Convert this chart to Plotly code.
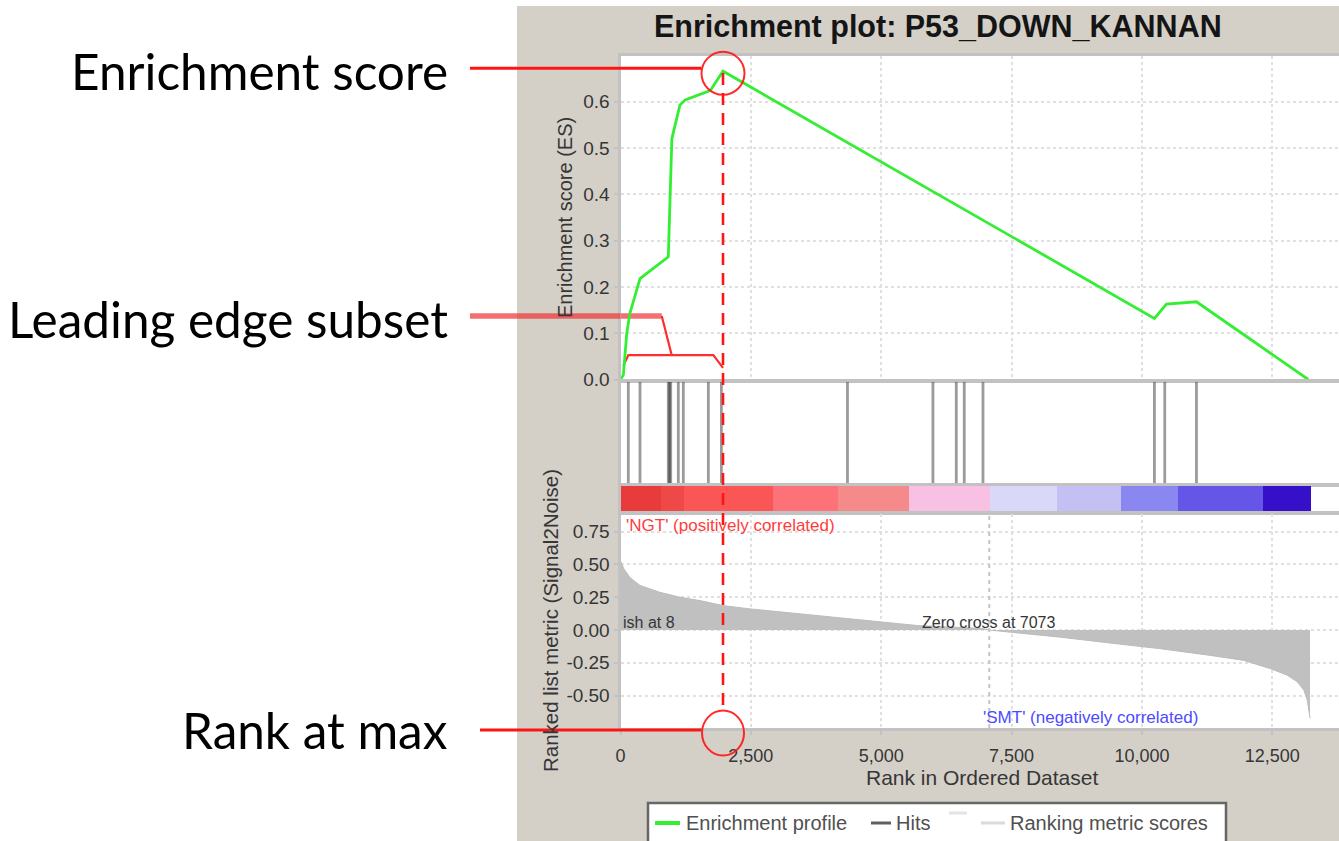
import plotly.graph_objects as go

W, H = 1339, 841

# ---------------- data ----------------
# running enrichment score (rank, ES)
es_rank = [0, 55, 120, 180, 374, 917, 985, 1140, 1240, 1720, 1966, 10240, 10470, 11046, 13190]
es_score = [0.0, 0.01, 0.10, 0.143, 0.218, 0.265, 0.52, 0.593, 0.604, 0.624, 0.666, 0.132, 0.163, 0.168, 0.0]

# positions of gene-set members in the ranked list
hit_ranks = [150, 374, 917, 940, 963, 1109, 1205, 1685, 1935,
             4353, 5992, 6440, 6593, 6952, 10240, 10438, 11046]

# leading-edge bracket
lead_rank = [54, 150, 1781, 1966]
lead_score = [0.03, 0.0525, 0.0525, 0.025]
lead_arm_rank = [0, 791]
lead_arm_score = [0.137, 0.137]
lead_drop_rank = [791, 983]
lead_drop_score = [0.137, 0.0525]

# ranked list metric (Signal2Noise)
metric_rank = [0, 60, 182, 374, 758, 1142, 1526, 1967, 2486, 3119, 3772, 4405, 5038,
               5691, 6958, 7073, 7476, 8436, 9395, 10355, 11315, 11954, 12466, 12787,
               12979, 13106, 13171, 13225]
metric_val = [0.53, 0.47, 0.40, 0.34, 0.287, 0.25, 0.224, 0.186, 0.161, 0.135, 0.110,
              0.085, 0.059, 0.034, 0.011, 0.0, -0.017, -0.055, -0.10, -0.143, -0.194,
              -0.232, -0.295, -0.345, -0.396, -0.46, -0.535, -0.674]

# heat-map bar under the hits
band_edges = [0, 758, 1200, 2908, 4156, 5518, 7073, 8359, 9587, 10681, 12313, 13230]
band_colors = ['#e83c3c', '#ee4848', '#fb5656', '#fd7278', '#f58a8a', '#f8c0e2',
               '#d9d8f8', '#c4c0f4', '#8a88f0', '#6656e8', '#3510c8']

x_ticks = [0, 2500, 5000, 7500, 10000, 12500]
x_tick_text = ['0', '2,500', '5,000', '7,500', '10,000', '12,500']
es_ticks = [0.0, 0.1, 0.2, 0.3, 0.4, 0.5, 0.6]
es_tick_text = ['0.0', '0.1', '0.2', '0.3', '0.4', '0.5', '0.6']
metric_ticks = [-0.5, -0.25, 0.0, 0.25, 0.5, 0.75]
metric_tick_text = ['-0.50', '-0.25', '0.00', '0.25', '0.50', '0.75']

RANK_AT_MAX = 1966
ZERO_CROSS = 7073
X_RANGE = [0, 13780]

# ---------------- helpers ----------------
def px(x):
    return x / W


def py(y):
    return 1 - y / H


FONT = 'Liberation Sans, Arial, sans-serif'
ANNOT_FONT = 'Lato, Liberation Sans, sans-serif'
PANEL = '#d4d0c8'
FRAME = '#c2c2c2'
GRID = '#e0e0e0'
TXT = '#363636'
RED = '#ff1414'

fig = go.Figure()

# ranked list metric
fig.add_trace(go.Scatter(
    x=metric_rank, y=metric_val, mode='lines', fill='tozeroy',
    fillcolor='#c0c0c0', line=dict(color='#bcbcbc', width=1),
    xaxis='x4', yaxis='y4', hoverinfo='skip'))

# hits
hx, hy = [], []
for r in hit_ranks:
    hx += [r, r, None]
    hy += [0, 1, None]
fig.add_trace(go.Scatter(
    x=hx, y=hy, mode='lines', line=dict(color='rgba(45,45,45,0.48)', width=2.8),
    xaxis='x2', yaxis='y2', hoverinfo='skip'))

# colour band
centers = [(a + b) / 2 for a, b in zip(band_edges[:-1], band_edges[1:])]
widths = [b - a for a, b in zip(band_edges[:-1], band_edges[1:])]
fig.add_trace(go.Bar(
    x=centers, y=[1] * len(centers), width=widths, base=0,
    marker=dict(color=band_colors, line=dict(width=0)),
    xaxis='x3', yaxis='y3', hoverinfo='skip'))

# leading edge bracket
fig.add_trace(go.Scatter(
    x=lead_arm_rank, y=lead_arm_score, mode='lines',
    line=dict(color='rgba(240,50,50,0.7)', width=5.5),
    xaxis='x', yaxis='y', hoverinfo='skip'))
fig.add_trace(go.Scatter(
    x=lead_drop_rank + [None] + lead_rank,
    y=lead_drop_score + [None] + lead_score,
    mode='lines', line=dict(color='#ff2d2d', width=2.2),
    xaxis='x', yaxis='y', hoverinfo='skip'))

# enrichment profile
fig.add_trace(go.Scatter(
    x=es_rank, y=es_score, mode='lines', line=dict(color='#33ee33', width=2.8),
    xaxis='x', yaxis='y', hoverinfo='skip'))

x_dom = [px(620.5), 1.0]
base_x = dict(range=X_RANGE, domain=x_dom, showline=True, mirror=True,
              linecolor=FRAME, linewidth=3, zeroline=False, fixedrange=True,
              tickvals=x_ticks, automargin=False)
base_y = dict(showline=True, linecolor=FRAME, linewidth=3, zeroline=False,
              fixedrange=True, automargin=False)

layout = dict(
    template='none',
    width=W, height=H, autosize=False,
    margin=dict(l=0, r=0, t=0, b=0, pad=0),
    paper_bgcolor='white', plot_bgcolor='white',
    showlegend=False, bargap=0,
    font=dict(family=FONT, color=TXT),
    xaxis=dict(base_x, anchor='y', showticklabels=False, ticks='',
               showgrid=True, gridcolor=GRID, gridwidth=2, griddash='dot'),
    xaxis2=dict(base_x, anchor='y2', showticklabels=False, ticks='', showgrid=False),
    xaxis3=dict(base_x, anchor='y3', showticklabels=False, ticks='', showgrid=False),
    xaxis4=dict(base_x, anchor='y4', ticktext=x_tick_text, ticks='outside',
                ticklen=4, tickwidth=2, tickcolor=FRAME, ticklabelstandoff=5,
                tickfont=dict(size=18, color=TXT),
                showgrid=True, gridcolor=GRID, gridwidth=2, griddash='dot'),
    yaxis=dict(base_y, domain=[py(379.5), py(55.5)], range=[0, 0.70], anchor='x',
               tickvals=es_ticks, ticktext=es_tick_text, ticks='outside', ticklen=4,
               tickwidth=2, tickcolor=FRAME, tickfont=dict(size=19, color=TXT),
               showgrid=True, gridcolor=GRID, gridwidth=2, griddash='dot'),
    yaxis2=dict(base_y, domain=[py(484), py(381.5)], range=[0, 1], anchor='x2',
                showticklabels=False, ticks='', showgrid=False),
    yaxis3=dict(base_y, domain=[py(512), py(486)], range=[0, 1], anchor='x3',
                showticklabels=False, ticks='', showgrid=False),
    yaxis4=dict(base_y, domain=[py(728), py(514)], range=[-0.748, 0.885], anchor='x4',
                tickvals=metric_ticks, ticktext=metric_tick_text, ticks='outside',
                ticklen=4, tickwidth=2, tickcolor=FRAME, tickfont=dict(size=19, color=TXT),
                showgrid=True, gridcolor=GRID, gridwidth=2, griddash='dot'),
)
fig.update_layout(**layout)


def panel_rect(x0, x1, y0, y1):
    return dict(type='rect', xref='paper', yref='paper', x0=px(x0), x1=px(x1),
                y0=py(y1), y1=py(y0), fillcolor=PANEL, line=dict(width=0), layer='below')


shapes = [
    # grey chart window around the plotting panels
    panel_rect(517, W, 6, 54),
    panel_rect(517, 619, 6, H),
    panel_rect(619, W, 729.5, H),
    # zero-cross marker
    dict(type='line', xref='x4', yref='y4 domain', x0=ZERO_CROSS, x1=ZERO_CROSS,
         y0=0, y1=1, line=dict(color='#c4c4c4', width=2, dash='4px,4px'), layer='above'),
    # rank at max
    dict(type='line', xref='x', yref='paper', x0=RANK_AT_MAX, x1=RANK_AT_MAX,
         y0=py(73), y1=py(711), line=dict(color=RED, width=2.6, dash='12px,8px')),
    dict(type='circle', xref='x', yref='paper', xsizemode='pixel', ysizemode='pixel',
         xanchor=RANK_AT_MAX, yanchor=py(73.3), x0=-21.5, x1=21.5, y0=-21.5, y1=21.5,
         line=dict(color='rgba(255,20,20,0.9)', width=2)),
    dict(type='circle', xref='x', yref='paper', xsizemode='pixel', ysizemode='pixel',
         xanchor=RANK_AT_MAX, yanchor=py(733), x0=-21, x1=21, y0=-22.5, y1=22.5,
         line=dict(color='rgba(255,20,20,0.9)', width=2)),
    # callout lines
    dict(type='line', xref='paper', yref='paper', x0=px(470), x1=px(701.5),
         y0=py(68.3), y1=py(68.3), line=dict(color=RED, width=3)),
    dict(type='line', xref='paper', yref='paper', x0=px(470), x1=px(620.5),
         y0=py(316), y1=py(316), line=dict(color='rgba(240,50,50,0.7)', width=5.5)),
    dict(type='line', xref='paper', yref='paper', x0=px(480), x1=px(701.5),
         y0=py(730), y1=py(730), line=dict(color=RED, width=3)),
    # legend box
    dict(type='rect', xref='paper', yref='paper', x0=px(648), x1=px(1226),
         y0=py(850), y1=py(803), fillcolor='white', line=dict(color='#666666', width=2.5)),
    dict(type='line', xref='paper', yref='paper', x0=px(655), x1=px(680),
         y0=py(823), y1=py(823), line=dict(color='#33ee33', width=4)),
    dict(type='line', xref='paper', yref='paper', x0=px(871), x1=px(891),
         y0=py(823), y1=py(823), line=dict(color='#606060', width=3)),
    dict(type='line', xref='paper', yref='paper', x0=px(949), x1=px(967),
         y0=py(813), y1=py(813), line=dict(color='#e4e4e4', width=3)),
    dict(type='line', xref='paper', yref='paper', x0=px(981), x1=px(1005),
         y0=py(823), y1=py(823), line=dict(color='#dadada', width=3)),
]
fig.update_layout(shapes=shapes)


def note(text, x, y, size, xanchor='center', color=TXT, family=FONT, angle=0, xref='paper'):
    return dict(text=text, x=x, y=y, xref=xref, yref='paper', xanchor=xanchor,
                yanchor='middle', showarrow=False, textangle=angle,
                font=dict(size=size, color=color, family=family))


annotations = [
    note('<b>Enrichment plot: P53_DOWN_KANNAN</b>', px(937.5), py(27), 30.5, color='#151515'),
    note('Enrichment score', px(450), py(71), 49.5, xanchor='right', color='black', family=ANNOT_FONT),
    note('Leading edge subset', px(450), py(319), 49.5, xanchor='right', color='black', family=ANNOT_FONT),
    note('Rank at max', px(450), py(730), 49.5, xanchor='right', color='black', family=ANNOT_FONT),
    note('Enrichment score (ES)', px(565), py(218), 20, angle=-90),
    note('Ranked list metric (Signal2Noise)', px(550), py(621), 20.5, angle=-90),
    note('Rank in Ordered Dataset', px(982), py(777), 21),
    note("'NGT' (positively correlated)", px(624), py(525), 17, xanchor='left', color='#ff3c3c'),
    note("'SMT' (negatively correlated)", px(981), py(717), 17, xanchor='left', color='#4b4bff'),
    note('Zero cross at 7073', ZERO_CROSS, py(622), 16, xref='x4'),
    note('ish at 8', px(621), py(622), 16, xanchor='left'),
    note('Enrichment profile', px(684), py(823), 20, xanchor='left', color='#505050'),
    note('Hits', px(894), py(823), 20, xanchor='left', color='#505050'),
    note('Ranking metric scores', px(1008), py(823), 20, xanchor='left', color='#505050'),
]
fig.update_layout(annotations=annotations)

fig.write_html('out.html')
